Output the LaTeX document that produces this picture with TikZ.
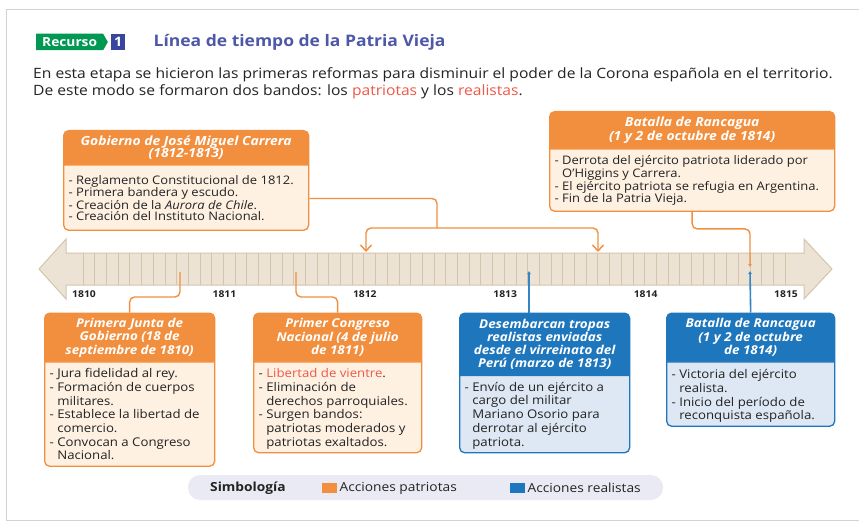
\documentclass[tikz,border=0pt]{standalone}
\usepackage{fontspec}
\setmainfont{Open Sans}[FakeStretch=1.1]
\usetikzlibrary{shapes.multipart,shapes.symbols,positioning,arrows.meta}

\definecolor{patriotOrange}{RGB}{242,143,62}
\definecolor{patriotLight}{RGB}{254,241,226}
\definecolor{realistBlue}{RGB}{30,118,188}
\definecolor{realistLight}{RGB}{222,231,244}
\definecolor{axisFill}{RGB}{236,227,213}
\definecolor{axisLine}{RGB}{212,196,174}
\definecolor{titleBlue}{RGB}{78,88,168}
\definecolor{badgeGreen}{RGB}{0,152,82}
\definecolor{badgeBlue}{RGB}{56,70,160}
\definecolor{accentRed}{RGB}{238,88,72}
\definecolor{legendFill}{RGB}{234,234,244}
\definecolor{textGray}{RGB}{35,35,35}

% font sizes of the boxes
\newcommand{\upperhead}{\fontsize{12.6}{12.2}\selectfont}
\newcommand{\upperbody}{\fontsize{11.8}{10.9}\selectfont}
\newcommand{\lowerhead}{\fontsize{12.2}{13.3}\selectfont}
\newcommand{\lowerbody}{\fontsize{12}{13.7}\selectfont}

% "- " items with hanging indent
\newlength\itemdash
\newcommand{\bitem}{\par\settowidth{\itemdash}{-\space}\hangindent=\itemdash\hangafter=1\noindent-\space}
% header part: width, height, text
\newcommand{\headbox}[3]{\parbox[c][#2][c]{#1}{\centering\color{white}\bfseries\itshape #3}}
% body part: width, height, top gap, text
\newcommand{\bodybox}[4]{\parbox[c][#2][t]{#1}{\vspace*{#3}\raggedright\color{textGray}#4\par}}

\begin{document}
\begin{tikzpicture}[
    x=1pt, y=-1pt,
    panel frame/.style={draw=gray!35, line width=1.5pt, fill=white},
    patriot box/.style={
        rectangle split,
        rectangle split parts=2,
        draw=patriotOrange,
        line width=1.3pt,
        rounded corners=5pt,
        rectangle split part fill={patriotOrange,patriotLight},
        inner xsep=5pt,
        inner ysep=0pt,
        anchor=north west
    },
    realist box/.style={
        patriot box,
        draw=realistBlue,
        rectangle split part fill={realistBlue,realistLight}
    },
    patriot line/.style={draw=patriotOrange, line width=1.4pt, rounded corners=5pt},
    realist line/.style={draw=realistBlue!90, line width=1.6pt},
    axis/.style={draw=axisLine, line width=1pt, fill=axisFill},
    month tick/.style={draw=axisLine, line width=0.8pt},
    year label/.style={font=\fontsize{9.4}{10}\selectfont\bfseries, text=textGray, inner sep=0pt},
    intro text/.style={font=\fontsize{14.2}{17}\selectfont, text=textGray, inner sep=0pt},
    legend text/.style={font=\fontsize{12.5}{14}\selectfont, text=textGray, inner sep=0pt},
    swatch/.style={minimum width=15pt, minimum height=10pt, inner sep=0pt}
]

\useasboundingbox (0,0) rectangle (859,524);
\fill[white] (0,0) rectangle (859,524);
\draw[panel frame] (6.5,9.5) rectangle (880,520.5);

% Heading
\node[signal, signal to=east, signal pointer angle=120, fill=badgeGreen, text=white,
      font=\fontsize{12.5}{13}\selectfont\bfseries, minimum height=16.5pt, inner xsep=6pt,
      inner ysep=0pt, anchor=west] (recurso) at (36,42) {Recurso};
\node[fill=badgeBlue, text=white, font=\fontsize{13}{13}\selectfont\bfseries,
      minimum width=14pt, minimum height=16.5pt, inner sep=0pt, right=3pt of recurso] (num) {1};
\node[font=\fontsize{15.9}{17}\selectfont\bfseries, text=titleBlue, inner sep=0pt,
      right=28pt of num] (title) {Línea de tiempo de la Patria Vieja};

\node[intro text, anchor=base west] (intro1) at (33,78.3)
    {En esta etapa se hicieron las primeras reformas para disminuir el poder de la Corona española en el territorio.};
\node[intro text, anchor=base west] (intro2) at ([yshift=-17pt]intro1.base west)
    {De este modo se formaron dos bandos: los \textcolor{accentRed}{patriotas} y los \textcolor{accentRed}{realistas}.};

% Time axis
\draw[axis] (39,269) -- (66,239) -- (66,253) -- (804,253) -- (804,239) -- (832,269)
    -- (804,299) -- (804,285) -- (66,285) -- (66,299) -- cycle;
\foreach \m in {0,...,60}
    \draw[month tick] ({83+\m*11.7},253) -- ++(0,32);
\foreach \yr [count=\k from 0] in {1810,...,1815}
    \node[year label] (y\yr) at ({84+\k*140.4},294) {\yr};

\coordinate (sep1810) at (180,272);
\coordinate (jul1811) at (296,272);
\coordinate (nov1811) at (366,252);
\coordinate (sep1813) at (598,252);
\coordinate (carreraJoin) at (437,228);
\coordinate (mar1813) at (529,271);
\coordinate (oct1814) at (750,267);
\coordinate (oct1814r) at (750,271);

% Patriot boxes
\node[patriot box] (gob) at (63,130) {%
    \headbox{235pt}{33pt}{\upperhead Gobierno de José Miguel Carrera\\(1812-1813)}%
    \nodepart{two}%
    \bodybox{235pt}{64pt}{9.5pt}{\upperbody
        \bitem Reglamento Constitucional de 1812.
        \bitem Primera bandera y escudo.
        \bitem Creación de la \textit{Aurora de Chile}.
        \bitem Creación del Instituto Nacional.}};

\node[patriot box] (rtop) at (549,111) {%
    \headbox{275pt}{36pt}{\upperhead Batalla de Rancagua\\(1 y 2 de octubre de 1814)}%
    \nodepart{two}%
    \bodybox{275pt}{61pt}{6pt}{\upperbody
        \bitem Derrota del ejército patriota liderado por\newline O'Higgins y Carrera.
        \bitem El ejército patriota se refugia en Argentina.
        \bitem Fin de la Patria Vieja.}};

\node[patriot box] (junta) at (44,312.5) {%
    \headbox{160pt}{47.5pt}{\lowerhead Primera Junta de\\Gobierno (18 de\\septiembre de 1810)}%
    \nodepart{two}%
    \bodybox{160pt}{103pt}{6pt}{\lowerbody
        \bitem Jura fidelidad al rey.
        \bitem Formación de cuerpos\newline militares.
        \bitem Establece la libertad de\newline comercio.
        \bitem Convocan a Congreso\newline Nacional.}};

\node[patriot box] (congreso) at (253,312.5) {%
    \headbox{158pt}{47.5pt}{\lowerhead Primer Congreso\\Nacional (4 de julio\\de 1811)}%
    \nodepart{two}%
    \bodybox{158pt}{89.5pt}{6pt}{\lowerbody
        \bitem \textcolor{accentRed}{Libertad de vientre}.
        \bitem Eliminación de\newline derechos parroquiales.
        \bitem Surgen bandos:\newline patriotas moderados y\newline patriotas exaltados.}};

% Realist boxes
\node[realist box] (desemb) at (459,312.5) {%
    \headbox{160pt}{61pt}{\lowerhead Desembarcan tropas\\realistas enviadas\\desde el virreinato del\\Perú (marzo de 1813)}%
    \nodepart{two}%
    \bodybox{160pt}{76pt}{6pt}{\lowerbody
        \bitem Envío de un ejército a\newline cargo del militar\newline Mariano Osorio para\newline derrotar al ejército\newline patriota.}};

\node[realist box] (rbot) at (666,312.5) {%
    \headbox{158pt}{47.5pt}{\lowerhead Batalla de Rancagua\\(1 y 2 de octubre\\de 1814)}%
    \nodepart{two}%
    \bodybox{158pt}{63pt}{7pt}{\lowerbody
        \bitem Victoria del ejército\newline realista.
        \bitem Inicio del período de\newline reconquista española.}};

% Connections
\draw[patriot line] ([yshift=-18pt]gob.east) -| (carreraJoin);
\draw[patriot line, -{Straight Barb[length=6pt,width=11pt]}] (carreraJoin) -| (nov1811);
\draw[patriot line, -{Straight Barb[length=6pt,width=11pt]}] (carreraJoin) -| (sep1813);
\draw[patriot line, -{Latex[length=3pt,width=4pt]}] (rtop.south) -- ++(0,17) -| (oct1814);
\draw[patriot line] (sep1810) -- ++(0,25) -| (junta.north);
\draw[patriot line] (jul1811) -- ++(0,25) -| (congreso.north);
\draw[realist line, -{Latex[length=3pt,width=4pt]}] (desemb.north -| mar1813) -- (mar1813);
\draw[realist line, -{Latex[length=3pt,width=4pt]}] (rbot.north) -- (oct1814r);

% Legend
\node[fill=legendFill, rounded corners=12pt, minimum width=475pt, minimum height=25pt] (legend) at (425.5,487.5) {};
\node[legend text, font=\fontsize{12.5}{14}\selectfont\bfseries, anchor=west] (simbologia) at (210,488) {Simbología};
\node[swatch, fill=patriotOrange, anchor=west] (patriotKey) at (322,488) {};
\node[legend text, right=2pt of patriotKey] (patriotLabel) {Acciones patriotas};
\node[swatch, fill=realistBlue, anchor=west] (realistKey) at (510,488) {};
\node[legend text, right=2pt of realistKey] (realistLabel) {Acciones realistas};

\end{tikzpicture}
\end{document}
